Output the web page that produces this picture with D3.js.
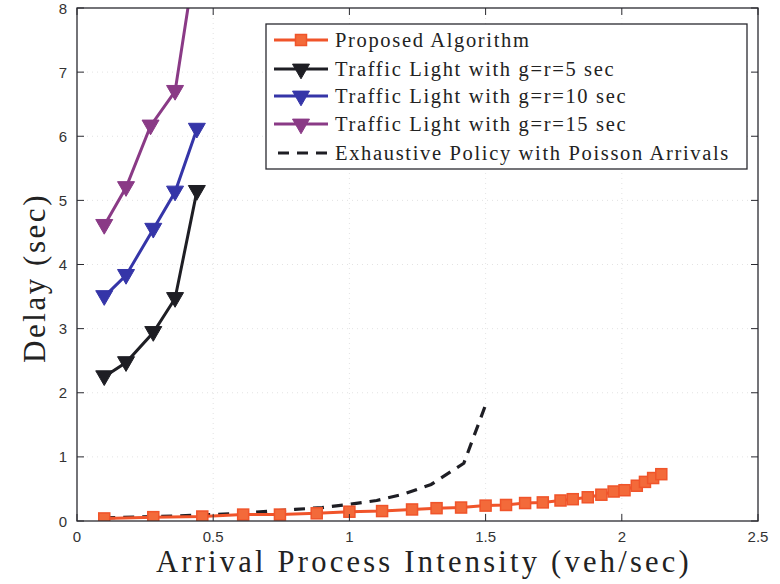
<!DOCTYPE html>
<html>
<head>
<meta charset="utf-8">
<script src="https://cdn.jsdelivr.net/npm/d3@7/dist/d3.min.js"></script>
<style>
  html, body { margin: 0; padding: 0; background: #fff; }
  svg { display: block; }
</style>
</head>
<body>
<svg id="chart" width="780" height="584"></svg>
<script>
// ---- data ----
const xTicks = [0, 0.5, 1, 1.5, 2, 2.5];
const yTicks = [0, 1, 2, 3, 4, 5, 6, 7, 8];

const tlX = [0.1, 0.18, 0.28, 0.36, 0.44];
const tl5 = [2.25, 2.47, 2.94, 3.47, 5.14];
const tl10 = [3.5, 3.83, 4.55, 5.13, 6.11];
const tl15X = [0.1, 0.18, 0.27, 0.36, 0.44];
const tl15 = [4.61, 5.2, 6.16, 6.7, 8.9];

const propX = [0.1, 0.28, 0.46, 0.61, 0.745, 0.88, 1.0, 1.12, 1.23, 1.32, 1.41, 1.5, 1.575, 1.645, 1.71, 1.775, 1.82, 1.875, 1.925, 1.97, 2.01, 2.055, 2.085, 2.115, 2.145];
const propY = [0.04, 0.06, 0.07, 0.1, 0.1, 0.12, 0.145, 0.155, 0.18, 0.2, 0.21, 0.24, 0.25, 0.28, 0.29, 0.32, 0.34, 0.37, 0.41, 0.46, 0.48, 0.55, 0.61, 0.67, 0.73];

const exhX = [0.1, 0.3, 0.5, 0.6, 0.7, 0.8, 0.9, 1.0, 1.1, 1.2, 1.3, 1.42, 1.5];
const exhY = [0.05, 0.07, 0.1, 0.12, 0.15, 0.18, 0.21, 0.26, 0.32, 0.42, 0.57, 0.9, 1.81];

const legendLabels = [
  "Proposed Algorithm",
  "Traffic Light with g=r=5 sec",
  "Traffic Light with g=r=10 sec",
  "Traffic Light with g=r=15 sec",
  "Exhaustive Policy with Poisson Arrivals"
];

// ---- layout ----
const svg = d3.select("#chart");
const L = 77, R = 758, T = 8, B = 521;
const x = d3.scaleLinear().domain([0, 2.5]).range([L, R]);
const y = d3.scaleLinear().domain([0, 8]).range([B, T]);

const colors = {
  prop: "#f0542a",
  tl5: "#1e1e24",
  tl10: "#3535a8",
  tl15: "#8a3a86",
  exh: "#1e1e24"
};

svg.append("rect").attr("x", 0).attr("y", 0).attr("width", 780).attr("height", 584).attr("fill", "#fff");

// grid
const grid = svg.append("g");
xTicks.slice(1, -1).forEach(t => {
  grid.append("line").attr("x1", x(t)).attr("x2", x(t)).attr("y1", T).attr("y2", B)
    .attr("stroke", "#dcdcdc").attr("stroke-width", 0.8).attr("stroke-dasharray", "1,4");
});
yTicks.slice(1, -1).forEach(t => {
  grid.append("line").attr("x1", L).attr("x2", R).attr("y1", y(t)).attr("y2", y(t))
    .attr("stroke", "#dcdcdc").attr("stroke-width", 0.8).attr("stroke-dasharray", "1,4");
});

// clip
svg.append("clipPath").attr("id", "clip").append("rect")
  .attr("x", L).attr("y", T).attr("width", R - L).attr("height", B - T);

const plot = svg.append("g").attr("clip-path", "url(#clip)");
const line = d3.line().x(d => x(d[0])).y(d => y(d[1]));
const zip = (a, b) => a.map((v, i) => [v, b[i]]);

const tri = d3.symbol().type(d3.symbolTriangle).size(125);

function drawTL(xs, ys, col) {
  const data = zip(xs, ys);
  plot.append("path").datum(data).attr("d", line).attr("fill", "none")
    .attr("stroke", col).attr("stroke-width", 3);
  plot.selectAll(null).data(data).enter().append("path")
    .attr("d", tri)
    .attr("transform", d => `translate(${x(d[0])},${y(d[1]) - 1}) rotate(180)`)
    .attr("fill", col).attr("stroke", col).attr("stroke-width", 1);
}

// exhaustive dashed
plot.append("path").datum(zip(exhX, exhY)).attr("d", line).attr("fill", "none")
  .attr("stroke", colors.exh).attr("stroke-width", 3.2).attr("stroke-dasharray", "11,8");

// proposed
const pData = zip(propX, propY);
plot.append("path").datum(pData).attr("d", line).attr("fill", "none")
  .attr("stroke", colors.prop).attr("stroke-width", 3);
plot.selectAll(null).data(pData).enter().append("rect")
  .attr("x", d => x(d[0]) - 5.5).attr("y", d => y(d[1]) - 5.5)
  .attr("width", 11).attr("height", 11)
  .attr("fill", "#f36a3a").attr("stroke", colors.prop).attr("stroke-width", 1.5);

drawTL(tlX, tl5, colors.tl5);
drawTL(tlX, tl10, colors.tl10);
drawTL(tl15X, tl15, colors.tl15);

// axes frame
const axCol = "#2a2a30";
svg.append("rect").attr("x", L).attr("y", T).attr("width", R - L).attr("height", B - T)
  .attr("fill", "none").attr("stroke", axCol).attr("stroke-width", 1.3);

const tickLen = 7;
xTicks.forEach(t => {
  svg.append("line").attr("x1", x(t)).attr("x2", x(t)).attr("y1", B).attr("y2", B - tickLen).attr("stroke", axCol);
  svg.append("line").attr("x1", x(t)).attr("x2", x(t)).attr("y1", T).attr("y2", T + tickLen).attr("stroke", axCol);
  svg.append("text").attr("x", x(t)).attr("y", 542).attr("text-anchor", "middle")
    .attr("font-family", "Liberation Sans, Arial, sans-serif").attr("font-size", 15).attr("fill", "#333")
    .text(d3.format("")(t));
});
yTicks.forEach(t => {
  svg.append("line").attr("x1", L).attr("x2", L + tickLen).attr("y1", y(t)).attr("y2", y(t)).attr("stroke", axCol);
  svg.append("line").attr("x1", R).attr("x2", R - tickLen).attr("y1", y(t)).attr("y2", y(t)).attr("stroke", axCol);
  svg.append("text").attr("x", 67).attr("y", y(t) + 5.5).attr("text-anchor", "end")
    .attr("font-family", "Liberation Sans, Arial, sans-serif").attr("font-size", 15).attr("fill", "#333")
    .text(t);
});

// widen text by letter-spacing to reach a target width
function spread(sel, width) {
  const w = sel.node().getComputedTextLength();
  const n = sel.text().length;
  sel.attr("letter-spacing", Math.max(0, (width - w) / n));
}

const serif = "Liberation Serif, Times New Roman, serif";

// axis labels
const xl = svg.append("text").attr("x", 424).attr("y", 572).attr("text-anchor", "middle")
  .attr("font-family", serif).attr("font-size", 30.5).attr("fill", "#222")
  .text("Arrival Process Intensity (veh/sec)");
spread(xl, 536);

const yl = svg.append("text").attr("transform", "translate(45,278) rotate(-90)")
  .attr("text-anchor", "middle")
  .attr("font-family", serif).attr("font-size", 31).attr("fill", "#222")
  .text("Delay (sec)");
spread(yl, 170);

// legend
const lg = svg.append("g");
lg.append("rect").attr("x", 266).attr("y", 24).attr("width", 481).attr("height", 145)
  .attr("fill", "#fff").attr("stroke", axCol).attr("stroke-width", 1.3);
const rowY = [40, 69, 96, 124, 153];
const legCols = [colors.prop, colors.tl5, colors.tl10, colors.tl15, colors.exh];
let ls = 0;
legendLabels.forEach((lab, i) => {
  const cy = rowY[i];
  if (i === 4) {
    lg.append("line").attr("x1", 274).attr("x2", 328).attr("y1", cy).attr("y2", cy)
      .attr("stroke", colors.exh).attr("stroke-width", 3.2).attr("stroke-dasharray", "11,8")
      .attr("stroke-dashoffset", -4);
  } else {
    lg.append("line").attr("x1", 274).attr("x2", 328).attr("y1", cy).attr("y2", cy)
      .attr("stroke", legCols[i]).attr("stroke-width", 3);
    if (i === 0) {
      lg.append("rect").attr("x", 301 - 5.5).attr("y", cy - 5.5).attr("width", 11).attr("height", 11)
        .attr("fill", "#f36a3a").attr("stroke", colors.prop).attr("stroke-width", 1.5);
    } else {
      lg.append("path").attr("d", tri).attr("transform", `translate(301,${cy}) rotate(180)`)
        .attr("fill", legCols[i]).attr("stroke", legCols[i]);
    }
  }
  const t = lg.append("text").attr("class", "lt").attr("x", 335).attr("y", cy + 7)
    .attr("font-family", serif).attr("font-size", 20.5).attr("fill", "#222").text(lab);
  if (i === 4) {
    const w = t.node().getComputedTextLength();
    ls = Math.max(0, (395 - w) / lab.length);
  }
});
lg.selectAll("text.lt").attr("letter-spacing", ls);
</script>
</body>
</html>
